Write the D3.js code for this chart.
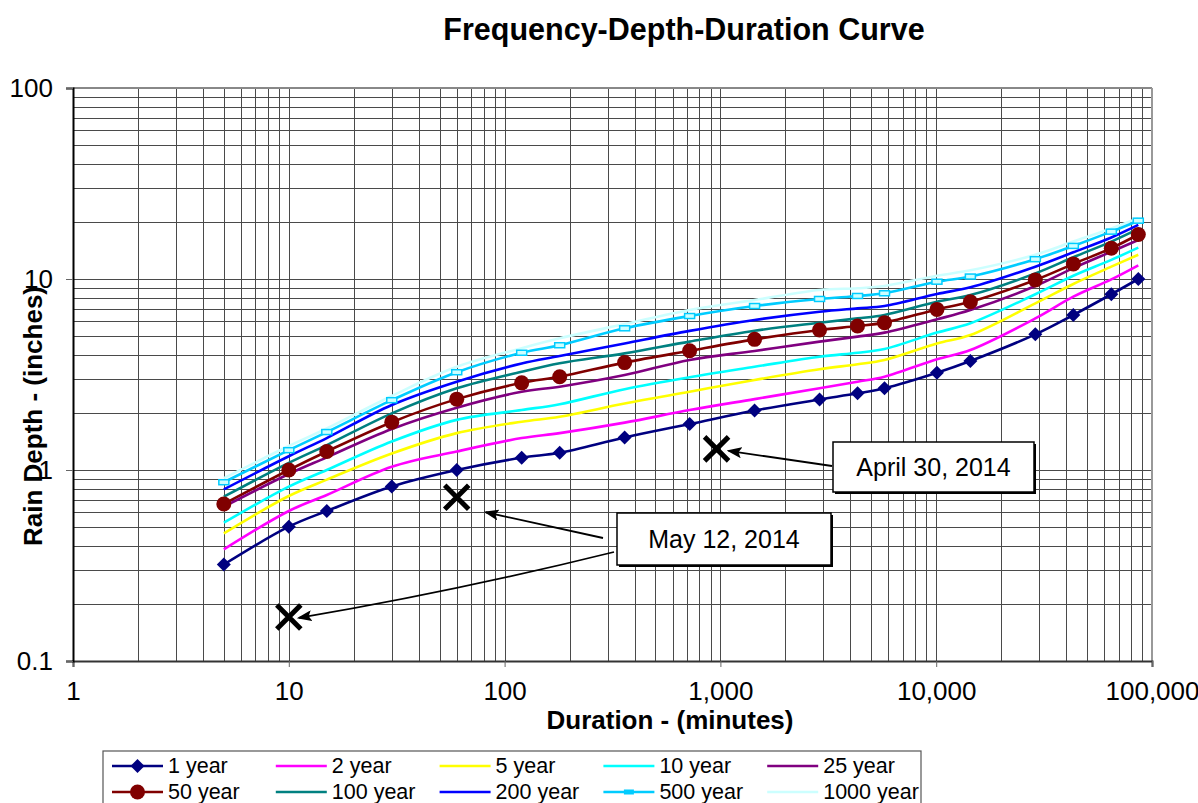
<!DOCTYPE html>
<html>
<head>
<meta charset="utf-8">
<script src="https://cdn.jsdelivr.net/npm/d3@7"></script>
<style>
  body { margin: 0; background: #fff; }
  svg { font-family: "Liberation Sans", Arial, sans-serif; }
  .grid line { stroke: #4a4a4a; stroke-width: 1; shape-rendering: crispEdges; }
</style>
</head>
<body>
<div id="graph"></div>
<script>
// durations in minutes (5 min .. 60 days)
var durations = [5, 10, 15, 30, 60, 120, 180, 360, 720, 1440, 2880, 4320, 5760, 10080, 14400, 28800, 43200, 64800, 86400];

// rain depth (inches) per return period
var depth1 = [0.32, 0.505, 0.61, 0.82, 1.0, 1.16, 1.23, 1.48, 1.74, 2.05, 2.34, 2.52, 2.68, 3.23, 3.72, 5.13, 6.48, 8.32, 10.0];
var depth2 = [0.384, 0.61, 0.74, 1.04, 1.25, 1.47, 1.56, 1.77, 2.06, 2.35, 2.68, 2.90, 3.08, 3.80, 4.25, 6.22, 8.08, 9.96, 11.8];
var depth5 = [0.466, 0.731, 0.89, 1.22, 1.56, 1.79, 1.90, 2.23, 2.57, 2.96, 3.37, 3.58, 3.77, 4.60, 5.09, 7.46, 9.42, 11.6, 13.4];
var depth10 = [0.53, 0.818, 1.0, 1.41, 1.83, 2.06, 2.21, 2.65, 3.06, 3.47, 3.92, 4.11, 4.30, 5.24, 5.86, 8.32, 10.4, 12.6, 14.6];
var depth25 = [0.643, 0.953, 1.165, 1.64, 2.12, 2.57, 2.73, 3.14, 3.77, 4.20, 4.70, 4.99, 5.24, 6.15, 6.88, 9.19, 11.4, 13.9, 16.0];
var depth50 = [0.664, 1.0, 1.25, 1.78, 2.35, 2.86, 3.08, 3.65, 4.21, 4.83, 5.41, 5.67, 5.91, 6.93, 7.6, 9.89, 12.0, 14.5, 17.1];
var depth100 = [0.725, 1.09, 1.35, 1.98, 2.68, 3.27, 3.62, 4.08, 4.70, 5.36, 5.90, 6.22, 6.48, 7.60, 8.24, 10.7, 13.0, 15.7, 18.3];
var depth200 = [0.792, 1.18, 1.47, 2.19, 2.90, 3.61, 3.95, 4.60, 5.35, 6.10, 6.74, 7.02, 7.22, 8.35, 9.05, 11.6, 13.8, 16.5, 19.2];
var depth500 = [0.863, 1.27, 1.58, 2.32, 3.25, 4.11, 4.50, 5.52, 6.40, 7.22, 7.86, 8.15, 8.42, 9.68, 10.3, 12.7, 14.9, 17.7, 20.2];
var depth1000 = [0.905, 1.335, 1.65, 2.44, 3.47, 4.34, 4.89, 5.81, 6.88, 7.76, 8.76, 8.94, 9.19, 10.4, 11.1, 13.4, 15.7, 18.4, 20.8];

var seriesNames = ["1 year", "2 year", "5 year", "10 year", "25 year", "50 year", "100 year", "200 year", "500 year", "1000 year"];
var seriesValues = [depth1, depth2, depth5, depth10, depth25, depth50, depth100, depth200, depth500, depth1000];
var seriesColors = ["#000080", "#ff00ff", "#ffff00", "#00ffff", "#800080", "#800000", "#008080", "#0000ff", "#00ccff", "#ccffff"];
var seriesMarkers = ["diamond", "none", "none", "none", "none", "circle", "none", "none", "rect", "none"];

// observed storms
var eventLabels = ["May 12, 2014", "April 30, 2014"];
var eventPoints = [[[10, 0.17], [60, 0.72]], [[960, 1.29]]];

var xTicks = [1, 10, 100, 1000, 10000, 100000];
var yTicks = [0.1, 1, 10, 100];

var width = 1198, height = 803;
var plotLeft = 73, plotRight = 1152, plotTop = 88, plotBottom = 661;

var svg = d3.select("#graph").append("svg")
    .attr("width", width)
    .attr("height", height);

var xScale = d3.scaleLog().domain([1, 100000]).range([plotLeft, plotRight]);
var yScale = d3.scaleLog().domain([0.1, 100]).range([plotBottom, plotTop]);

// minor + major grid lines
var xGrid = [], yGrid = [];
for (var p = 0; p < 5; p++) {
    for (var m = 1; m <= 10; m++) xGrid.push(m * Math.pow(10, p));
}
for (var q = -1; q < 2; q++) {
    for (var n = 1; n <= 10; n++) yGrid.push(n * Math.pow(10, q));
}

var grid = svg.append("g").attr("class", "grid");
grid.selectAll(".gx")
    .data(xGrid)
    .enter().append("line")
    .attr("class", "gx")
    .attr("x1", function(d) { return Math.round(xScale(d)) + 0.5; })
    .attr("x2", function(d) { return Math.round(xScale(d)) + 0.5; })
    .attr("y1", plotTop)
    .attr("y2", plotBottom);
grid.selectAll(".gy")
    .data(yGrid)
    .enter().append("line")
    .attr("class", "gy")
    .attr("y1", function(d) { return Math.round(yScale(d)) + 0.5; })
    .attr("y2", function(d) { return Math.round(yScale(d)) + 0.5; })
    .attr("x1", plotLeft)
    .attr("x2", plotRight);

// plot border
svg.append("line").attr("x1", plotLeft).attr("x2", plotRight).attr("y1", plotTop).attr("y2", plotTop)
    .attr("stroke", "#888").attr("stroke-width", 2);
svg.append("line").attr("x1", plotRight).attr("x2", plotRight).attr("y1", plotTop).attr("y2", plotBottom)
    .attr("stroke", "#999").attr("stroke-width", 2);

// axes
var fmt = d3.format(",");
var xAxis = d3.axisBottom(xScale).tickValues(xTicks).tickSize(6).tickFormat(function(d) { return fmt(d); });
var yAxis = d3.axisLeft(yScale).tickValues(yTicks).tickSize(7).tickFormat(function(d) { return d; });

var gx = svg.append("g")
    .attr("transform", "translate(0," + plotBottom + ")")
    .call(xAxis);
gx.select(".domain").attr("stroke", "#333").attr("stroke-width", 2);
gx.selectAll(".tick line").attr("stroke", "#666");
gx.selectAll("text")
    .attr("font-size", 26)
    .attr("font-family", "Liberation Sans, Arial, sans-serif")
    .attr("fill", "#000")
    .attr("dy", null)
    .attr("y", 39);

var gy = svg.append("g")
    .attr("transform", "translate(" + plotLeft + ",0)")
    .call(yAxis);
gy.select(".domain").attr("stroke", "#000").attr("stroke-width", 2);
gy.selectAll(".tick line").attr("stroke", "#666");
gy.selectAll("text")
    .attr("font-size", 26)
    .attr("font-family", "Liberation Sans, Arial, sans-serif")
    .attr("fill", "#000")
    .attr("x", -20);

// series lines
var line = d3.line()
    .x(function(d) { return xScale(d[0]); })
    .y(function(d) { return yScale(d[1]); })
    .curve(d3.curveCatmullRom.alpha(0.5));

var series = seriesNames.map(function(name, i) {
    return {
        name: name,
        color: seriesColors[i],
        marker: seriesMarkers[i],
        points: durations.map(function(t, j) { return [t, seriesValues[i][j]]; })
    };
});

// draw order: 1000 year at the back
var drawOrder = series.slice().reverse();

var plot = svg.append("g");
plot.selectAll(".series")
    .data(drawOrder)
    .enter().append("path")
    .attr("class", "series")
    .attr("fill", "none")
    .attr("stroke", function(d) { return d.color; })
    .attr("stroke-width", 2.6)
    .attr("d", function(d) { return line(d.points); });

function drawMarker(g, type, color) {
    if (type == "diamond") {
        g.append("path").attr("d", "M0,-7L7,0L0,7L-7,0Z").attr("fill", color);
    } else if (type == "circle") {
        g.append("circle").attr("r", 7.5).attr("fill", color);
    } else if (type == "rect") {
        g.append("rect").attr("x", -5).attr("y", -2.5).attr("width", 10).attr("height", 5)
            .attr("fill", "#ccffff").attr("stroke", color).attr("stroke-width", 1.5);
    }
}

drawOrder.forEach(function(s) {
    if (s.marker == "none") return;
    plot.selectAll(null)
        .data(s.points)
        .enter().append("g")
        .attr("transform", function(d) { return "translate(" + xScale(d[0]) + "," + yScale(d[1]) + ")"; })
        .each(function() { drawMarker(d3.select(this), s.marker, s.color); });
});

// annotations
var defs = svg.append("defs");
defs.append("marker")
    .attr("id", "arrow")
    .attr("viewBox", "0 0 15 11")
    .attr("refX", 13)
    .attr("refY", 5.5)
    .attr("markerWidth", 15)
    .attr("markerHeight", 11)
    .attr("markerUnits", "userSpaceOnUse")
    .attr("orient", "auto")
    .append("path")
    .attr("d", "M15,5.5L0,0L3,5.5L0,11Z")
    .attr("fill", "#000");

// box layout for each label: [x, y, w, h]
var boxes = [[617, 513, 214, 52], [833, 442, 201, 50]];
// arrow start (on box) and tip offset from the cross
var arrowStarts = [[[614, 552], [603, 538]], [[832, 466]]];
var tipOffsets = [[[10, 1], [29, 15]], [[12, 2]]];

var ann = svg.append("g");
eventPoints.forEach(function(pts, i) {
    pts.forEach(function(pt, j) {
        var cx = xScale(pt[0]), cy = yScale(pt[1]);
        ann.append("path")
            .attr("d", "M" + (cx - 12) + "," + (cy - 12) + "L" + (cx + 12) + "," + (cy + 12) +
                "M" + (cx - 12) + "," + (cy + 12) + "L" + (cx + 12) + "," + (cy - 12))
            .attr("stroke", "#000")
            .attr("stroke-width", 5);
        var s = arrowStarts[i][j];
        var tx = cx + tipOffsets[i][j][0], ty = cy + tipOffsets[i][j][1];
        var mx = (s[0] + tx) / 2, my = (s[1] + ty) / 2 + (j == 0 && i == 0 ? 6 : 0);
        ann.append("path")
            .attr("d", "M" + s[0] + "," + s[1] + "Q" + mx + "," + my + " " + tx + "," + ty)
            .attr("fill", "none")
            .attr("stroke", "#000")
            .attr("stroke-width", 1.8)
            .attr("marker-end", "url(#arrow)");
    });
    var b = boxes[i];
    ann.append("rect")
        .attr("x", b[0] + 2).attr("y", b[1] + 2).attr("width", b[2]).attr("height", b[3])
        .attr("fill", "#000");
    ann.append("rect")
        .attr("x", b[0]).attr("y", b[1]).attr("width", b[2]).attr("height", b[3])
        .attr("fill", "#fff").attr("stroke", "#000").attr("stroke-width", 1.5);
    ann.append("text")
        .attr("x", b[0] + b[2] / 2)
        .attr("y", b[1] + b[3] / 2 + 9)
        .attr("text-anchor", "middle")
        .attr("font-size", 25)
        .text(eventLabels[i]);
});

// titles
svg.append("text")
    .attr("x", 684).attr("y", 40)
    .attr("text-anchor", "middle")
    .attr("font-size", 30.5)
    .attr("font-weight", "bold")
    .text("Frequency-Depth-Duration Curve");

svg.append("text")
    .attr("x", 670).attr("y", 729)
    .attr("text-anchor", "middle")
    .attr("font-size", 26)
    .attr("font-weight", "bold")
    .text("Duration - (minutes)");

svg.append("text")
    .attr("transform", "translate(42,416) rotate(-90)")
    .attr("text-anchor", "middle")
    .attr("font-size", 26)
    .attr("font-weight", "bold")
    .text("Rain Depth - (inches)");

// legend
var legend = svg.append("g");
legend.append("rect")
    .attr("x", 103).attr("y", 751).attr("width", 818).attr("height", 60)
    .attr("fill", "#fff").attr("stroke", "#555").attr("stroke-width", 1.2);

var items = legend.selectAll(".item")
    .data(series)
    .enter().append("g")
    .attr("class", "item")
    .attr("transform", function(d, i) {
        return "translate(" + (112 + (i % 5) * 163.8) + "," + (766 + Math.floor(i / 5) * 26) + ")";
    });
items.append("line")
    .attr("x1", 0).attr("x2", 51)
    .attr("stroke", function(d) { return d.color; })
    .attr("stroke-width", 2.6);
items.each(function(d) {
    var g = d3.select(this).append("g").attr("transform", "translate(25.5,0)");
    if (d.marker == "rect") {
        g.append("rect").attr("x", -5).attr("y", -2.5).attr("width", 10).attr("height", 5).attr("fill", d.color);
    } else {
        drawMarker(g, d.marker, d.color);
    }
});
items.append("text")
    .attr("x", 56)
    .attr("y", 7)
    .attr("font-size", 21.5)
    .text(function(d) { return d.name; });
</script>
</body>
</html>
